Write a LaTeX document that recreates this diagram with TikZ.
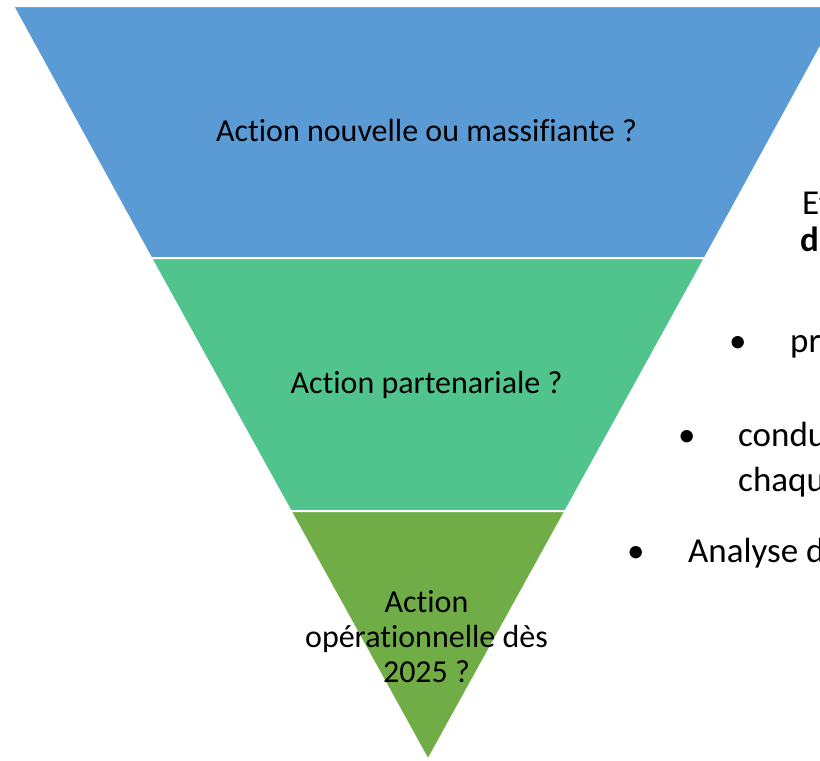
\documentclass[tikz,border=0pt]{standalone}
\usepackage{fontspec}
\setmainfont{Carlito}[Ligatures=NoCommon]
\usetikzlibrary{positioning,calc}

\definecolor{funnelblue}{HTML}{5B9BD5}
\definecolor{funnelmint}{HTML}{50C48C}
\definecolor{funnelgreen}{HTML}{70AD47}

\begin{document}
\begin{tikzpicture}[x=1pt,y=-1pt]
	\tikzset{
		band/.style = {draw=white, line width=2pt},
		label text/.style = {font=\fontsize{32}{35}\selectfont, align=center, anchor=base, inner sep=0pt},
		side text/.style = {font=\fontsize{35}{42}\selectfont, anchor=base west, inner sep=0pt}
		}
	\useasboundingbox (0,0) rectangle (820,761);
	\clip (0,0) rectangle (820,761);

	% funnel corners
	\coordinate (apex) at (428,760);
	\coordinate (topleft) at (13,6);
	\coordinate (topright) at (843,6);
	\coordinate (midleft) at (151,258);
	\coordinate (midright) at (705,258);
	\coordinate (lowleft) at (290.5,511);
	\coordinate (lowright) at (565.5,511);

	\filldraw [band, fill=funnelblue] (topleft) -- (topright) -- (midright) -- (midleft) -- cycle;
	\filldraw [band, fill=funnelmint] (midleft) -- (midright) -- (lowright) -- (lowleft) -- cycle;
	\filldraw [band, fill=funnelgreen] (lowleft) -- (lowright) -- (apex) -- cycle;

	\path (426.5,141) node [name=nouvelle, label text] {Action nouvelle ou massifiante ?}
		  (426.5,393) node [name=partenariale, label text] {Action partenariale ?}
		  (426.5,682) node [name=operationnelle, label text] {Action\\opérationnelle dès\\2025 ?};

	% text on the right, cut by the page edge
	\path (802,214) node [name=intro, side text] {Et}
		  (800,251) node [name=introbold, side text, font=\fontsize{35}{42}\selectfont\bfseries] {d};
	\path (729,352) node [name=bulletone, side text] {•}
		  (790,352) node [name=itemone, side text] {pr};
	\path (678,446) node [name=bullettwo, side text] {•}
		  (738,446) node [name=itemtwo, side text] {condu}
		  (738,491) node [name=itemtwomore, side text] {chaqu};
	\path (627,562) node [name=bulletthree, side text] {•}
		  (688,562) node [name=itemthree, side text] {Analyse d};
\end{tikzpicture}
\end{document}
